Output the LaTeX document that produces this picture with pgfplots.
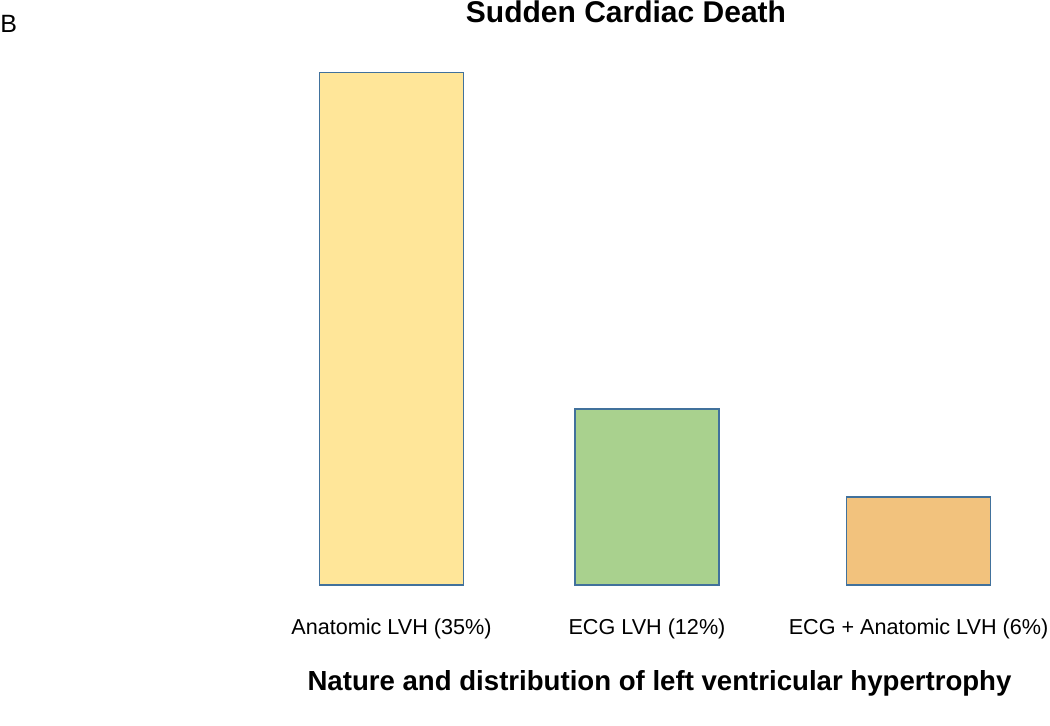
\documentclass[border=0pt]{standalone}
\usepackage{pgfplots}
\pgfplotsset{compat=1.18}
\usepackage{fontspec}
\setmainfont{Liberation Sans}

\definecolor{barYellow}{HTML}{FFE699}
\definecolor{barGreen}{HTML}{A9D18E}
\definecolor{barOrange}{HTML}{F2C27D}
\definecolor{barEdge}{HTML}{41719C}

% 1 px of the reference = 0.5pt; 1% = 14.65 px
\begin{document}
\begin{tikzpicture}
\useasboundingbox (0,-70pt) rectangle (525pt,292.5pt);
\begin{axis}[
  at={(0,0)}, anchor=south west,
  scale only axis,
  width=525pt,
  height=292.5pt,
  xmin=0, xmax=1050,
  ymin=0, ymax=39.93,
  axis line style={draw=none},
  tick style={draw=none},
  ytick=\empty,
  clip=false,
  ybar,
  bar width=144,
  bar shift=0pt,
  xtick={391.5,647,918.5},
  xticklabels={Anatomic LVH (35\%), ECG LVH (12\%), ECG + Anatomic LVH (6\%)},
  xticklabel style={anchor=north, yshift=-9pt, font=\fontsize{10.8}{13}\selectfont},
  xlabel={Nature and distribution of left ventricular hypertrophy},
  xlabel style={at={(axis cs:659.5,-6.7)}, anchor=center, font=\fontsize{13.8}{16}\selectfont\bfseries},
]
\addplot[fill=barYellow, draw=barEdge, line width=0.7pt] coordinates {(391.5,35)};
\addplot[fill=barGreen, draw=barEdge, line width=0.7pt] coordinates {(647,12)};
\addplot[fill=barOrange, draw=barEdge, line width=0.7pt] coordinates {(918.5,6)};
\node[anchor=center, font=\fontsize{15}{18}\selectfont\bfseries] at (axis cs:626,39.1) {Sudden Cardiac Death};
\node[anchor=west, inner sep=0pt, font=\fontsize{12.5}{15}\selectfont] at (axis cs:0,38.3) {B};
\end{axis}
\end{tikzpicture}
\end{document}
